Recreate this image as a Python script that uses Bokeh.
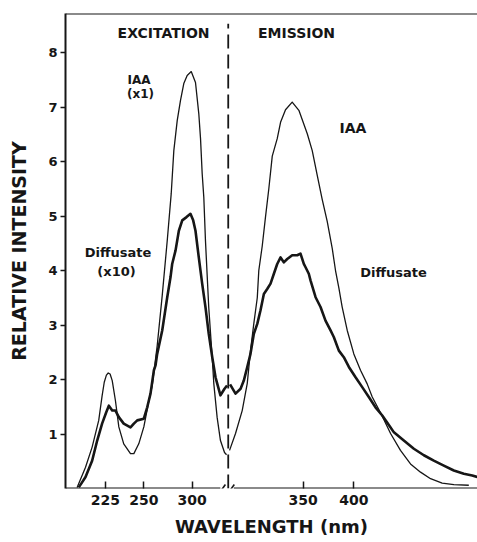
import numpy as np
from bokeh.plotting import figure
from bokeh.models import Range1d, FixedTicker, Label, Arrow
from bokeh.embed import file_html
from bokeh.resources import INLINE

# ---------------- data (wavelength nm, relative intensity) ----------------
# Excitation spectra
iaa_exc_nm = [206.5, 212.0, 216.3, 220.6, 222.8, 224.2, 225.6, 226.8, 228.0, 229.4,
              231.5, 233.7, 236.9, 241.3, 243.5, 246.7, 250.0, 255.2, 258.7, 263.8,
              269.0, 274.2, 278.3, 281.0, 284.5, 287.9, 291.3, 294.8, 299.0, 303.4,
              306.8, 308.6, 310.3, 312.0, 313.7, 317.1, 320.7, 322.3, 325.8, 329.2,
              333.4, 335.5]
iaa_exc_val = [0.02, 0.39, 0.76, 1.25, 1.70, 1.95, 2.08, 2.12, 2.10, 1.98,
               1.61, 1.13, 0.82, 0.64, 0.64, 0.82, 1.13, 1.61, 1.89, 2.62,
               3.54, 4.55, 5.41, 6.20, 6.75, 7.12, 7.43, 7.58, 7.65, 7.45,
               6.88, 6.42, 5.78, 5.34, 4.55, 3.32, 2.40, 1.93, 1.30, 0.88,
               0.66, 0.62]

dif_exc_nm = [207.6, 212.0, 216.3, 219.6, 222.8, 225.5, 227.2, 229.4, 231.5, 233.7,
              236.9, 241.3, 243.5, 245.7, 250.0, 253.5, 256.9, 260.4, 262.1, 263.8,
              269.0, 274.2, 277.6, 279.3, 282.8, 286.2, 289.7, 294.1, 298.2, 301.0,
              303.4, 306.8, 310.3, 313.7, 317.1, 320.7, 324.1, 329.2, 333.4, 336.0]
dif_exc_val = [0.02, 0.21, 0.51, 0.88, 1.19, 1.40, 1.52, 1.43, 1.43, 1.31,
               1.19, 1.12, 1.19, 1.25, 1.28, 1.49, 1.74, 2.17, 2.26, 2.47,
               2.90, 3.51, 3.88, 4.12, 4.37, 4.73, 4.92, 4.98, 5.04, 4.92,
               4.73, 4.24, 3.76, 3.33, 2.84, 2.41, 2.04, 1.71, 1.83, 1.89]

# Emission spectra
iaa_em_nm = [277.2, 283.1, 289.7, 294.7, 297.9, 301.2, 304.6, 306.1, 309.5, 312.7,
             316.0, 319.4, 324.3, 327.6, 332.5, 339.1, 345.7, 354.0, 358.9, 363.8,
             368.8, 373.7, 378.7, 381.9, 385.2, 388.5, 393.5, 400.0, 406.6, 413.2,
             418.2, 426.4, 436.3, 446.1, 456.0, 465.9, 475.8, 487.3, 498.8, 513.6]
iaa_em_val = [0.70, 1.01, 1.43, 1.93, 2.53, 3.03, 3.50, 4.00, 4.45, 4.98,
              5.50, 6.10, 6.42, 6.72, 6.95, 7.09, 6.94, 6.51, 6.20, 5.75,
              5.30, 4.90, 4.40, 4.00, 3.68, 3.33, 2.90, 2.47, 2.17, 1.92,
              1.68, 1.39, 1.01, 0.70, 0.45, 0.30, 0.18, 0.10, 0.07, 0.06]

dif_em_nm = [277.7, 283.1, 288.1, 291.3, 294.7, 297.9, 301.2, 304.6, 307.8, 311.1,
             314.4, 317.7, 321.0, 324.3, 327.6, 330.8, 334.2, 339.1, 344.1, 347.3,
             350.6, 352.3, 355.5, 357.2, 362.2, 367.1, 372.0, 377.0, 380.2, 385.2,
             390.1, 395.1, 401.7, 408.3, 414.8, 421.4, 428.1, 436.3, 439.6, 449.4,
             459.3, 469.2, 479.0, 488.9, 498.8, 508.7, 517.0, 521.9]
dif_em_val = [1.91, 1.74, 1.83, 1.98, 2.23, 2.47, 2.84, 3.02, 3.27, 3.57,
              3.66, 3.76, 3.94, 4.12, 4.24, 4.15, 4.21, 4.28, 4.28, 4.31,
              4.12, 4.06, 3.94, 3.82, 3.51, 3.33, 3.08, 2.90, 2.78, 2.53,
              2.41, 2.23, 2.04, 1.86, 1.68, 1.49, 1.34, 1.12, 1.03, 0.88,
              0.73, 0.61, 0.51, 0.42, 0.33, 0.27, 0.24, 0.21]

exc_tick_labels = ["225", "250", "300"]
em_tick_labels = ["350", "400"]
y_tick_values = [1, 2, 3, 4, 5, 6, 7, 8]

# ---------------- broken-axis scale ----------------
# The axis unit follows the emission wavelength scale; the excitation scale
# is mapped onto it piecewise through its printed tick positions.
EXC_ANCHOR_NM = [225.0, 250.0, 300.0]
EXC_ANCHOR_U = [154.6, 192.5, 240.3]
BREAK_U = 275.9
GAP_L, GAP_R = 266.6, 281.4
X_MIN, X_MAX = 115.1, 522.2
Y_MAX = 8.716
DIVIDER_TOP = 8.53


def exc_u(nm):
    nm = np.asarray(nm, dtype=float)
    u = np.interp(nm, EXC_ANCHOR_NM, EXC_ANCHOR_U)
    lo_slope = (EXC_ANCHOR_U[1] - EXC_ANCHOR_U[0]) / (EXC_ANCHOR_NM[1] - EXC_ANCHOR_NM[0])
    hi_slope = (EXC_ANCHOR_U[2] - EXC_ANCHOR_U[1]) / (EXC_ANCHOR_NM[2] - EXC_ANCHOR_NM[1])
    u = np.where(nm < EXC_ANCHOR_NM[0], EXC_ANCHOR_U[0] + (nm - EXC_ANCHOR_NM[0]) * lo_slope, u)
    u = np.where(nm > EXC_ANCHOR_NM[-1], EXC_ANCHOR_U[-1] + (nm - EXC_ANCHOR_NM[-1]) * hi_slope, u)
    return u


INK = "#161616"
FONT = "DejaVu Sans"

p = figure(width=477, height=542, output_backend="svg", toolbar_location=None,
           x_range=Range1d(X_MIN, X_MAX), y_range=Range1d(0, Y_MAX),
           min_border_left=65, min_border_right=0, min_border_top=13, min_border_bottom=54)
p.background_fill_color = "white"
p.border_fill_color = "white"
p.outline_line_color = None
p.xgrid.visible = False
p.ygrid.visible = False

# curves
p.line(exc_u(iaa_exc_nm), iaa_exc_val, line_color=INK, line_width=1.3, line_join="round")
p.line(exc_u(dif_exc_nm), dif_exc_val, line_color=INK, line_width=2.6, line_join="round")
p.line(iaa_em_nm, iaa_em_val, line_color=INK, line_width=1.3, line_join="round")
p.line(dif_em_nm, dif_em_val, line_color=INK, line_width=2.6, line_join="round")

# divider
p.line([BREAK_U, BREAK_U], [0, DIVIDER_TOP], line_color=INK, line_width=1.8, line_dash="14 6")

# x axis
xax = p.xaxis[0]
ex_ticks = [float(v) for v in exc_u([float(t) for t in exc_tick_labels])]
em_ticks = [float(t) for t in em_tick_labels]
xax.ticker = FixedTicker(ticks=ex_ticks + em_ticks)
xax.major_label_overrides = {t: lab for t, lab in zip(ex_ticks + em_ticks, exc_tick_labels + em_tick_labels)}
xax.axis_line_color = None
xax.major_tick_in = 7
xax.major_tick_out = 0
xax.major_tick_line_color = INK
xax.major_tick_line_width = 1.5
xax.minor_tick_line_color = None
xax.major_label_text_font = FONT
xax.major_label_text_font_style = "bold"
xax.major_label_text_font_size = "14px"
xax.major_label_text_color = INK
xax.major_label_standoff = 6
xax.axis_label = "WAVELENGTH (nm)"
xax.axis_label_text_font = FONT
xax.axis_label_text_font_style = "bold"
xax.axis_label_text_font_size = "18px"
xax.axis_label_text_color = INK
xax.axis_label_standoff = 8

# y axis
yax = p.yaxis[0]
yax.ticker = FixedTicker(ticks=y_tick_values)
yax.axis_line_color = INK
yax.axis_line_width = 2
yax.major_tick_in = 0
yax.major_tick_out = 5
yax.major_tick_line_color = INK
yax.major_tick_line_width = 1.5
yax.minor_tick_line_color = None
yax.major_label_text_font = FONT
yax.major_label_text_font_style = "bold"
yax.major_label_text_font_size = "13px"
yax.major_label_text_color = INK
yax.major_label_standoff = 3
yax.axis_label = "RELATIVE INTENSITY"
yax.axis_label_text_font = FONT
yax.axis_label_text_font_style = "bold"
yax.axis_label_text_font_size = "19px"
yax.axis_label_text_color = INK
yax.axis_label_standoff = 15

# frame lines: top border, broken x-axis line and break marks
for xs, ys, xe, ye, w in [
    (X_MIN, Y_MAX, X_MAX, Y_MAX, 2.2),
    (X_MIN, 0, GAP_L + 1.5, 0, 2.2),
    (GAP_R, 0, X_MAX, 0, 2.2),
    (GAP_L + 1.5, -0.055, GAP_L + 6.5, 0.073, 1.6),
    (GAP_R - 4.5, -0.055, GAP_R + 0.5, 0.073, 1.6),
]:
    p.add_layout(Arrow(end=None, start=None, x_start=xs, y_start=ys, x_end=xe, y_end=ye,
                       line_color=INK, line_width=w))

# annotations
def note(x, y, text, size):
    p.add_layout(Label(x=x, y=y, text=text, text_align="center", text_baseline="middle",
                       text_font=FONT, text_font_style="bold", text_font_size=size,
                       text_color=INK))

note(212.0, 8.35, "EXCITATION", "14px")
note(343.4, 8.35, "EMISSION", "14px")
note(187.7, 7.49, "IAA", "12px")
note(189.2, 7.23, "(x1)", "12px")
note(167.0, 4.33, "Diffusate", "13px")
note(165.5, 3.98, "(x10)", "13px")
note(399.2, 6.62, "IAA", "14px")
note(439.2, 3.96, "Diffusate", "13px")

open("out.html", "w").write(file_html(p, INLINE))
